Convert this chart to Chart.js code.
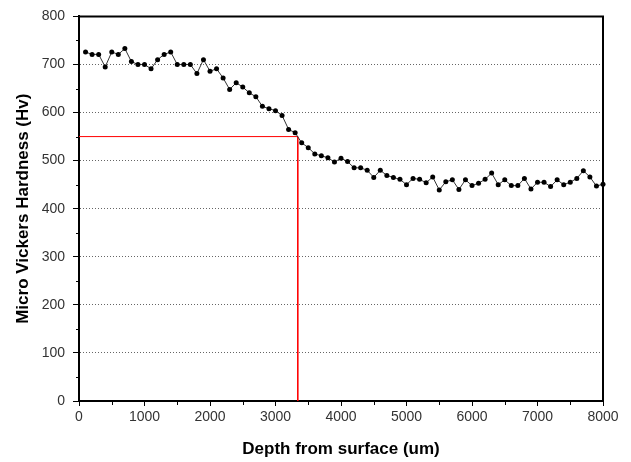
<!DOCTYPE html>
<html>
<head>
<meta charset="utf-8">
<script src="https://cdn.jsdelivr.net/npm/chart.js@4.4.1/dist/chart.umd.min.js"></script>
<style>
  html, body { margin: 0; padding: 0; background: #fff; }
  #wrap { width: 631px; height: 462px; }
</style>
</head>
<body>
<div id="wrap"><canvas id="chart" width="631" height="462"></canvas></div>
<script>
// depth from surface (um)
const depths = [
  100, 200, 300, 400, 500, 600, 700, 800, 900, 1000,
  1100, 1200, 1300, 1400, 1500, 1600, 1700, 1800, 1900, 2000,
  2100, 2200, 2300, 2400, 2500, 2600, 2700, 2800, 2900, 3000,
  3100, 3200, 3300, 3400, 3500, 3600, 3700, 3800, 3900, 4000,
  4100, 4200, 4300, 4400, 4500, 4600, 4700, 4800, 4900, 5000,
  5100, 5200, 5300, 5400, 5500, 5600, 5700, 5800, 5900, 6000,
  6100, 6200, 6300, 6400, 6500, 6600, 6700, 6800, 6900, 7000,
  7100, 7200, 7300, 7400, 7500, 7600, 7700, 7800, 7900, 8000
];
// micro vickers hardness (Hv)
const hardness = [
  726, 721, 721, 695, 726, 721, 733, 706, 700, 700,
  691, 710, 721, 726, 700, 700, 700, 681, 710, 686,
  691, 672, 648, 662, 653, 641, 633, 613, 608, 604,
  594, 565, 558, 537, 527, 514, 510, 506, 497, 505,
  498, 485, 485, 480, 465, 480, 469, 465, 461, 450,
  463, 461, 454, 466, 439, 456, 460, 440, 460, 448,
  453, 461, 474, 450, 460, 448, 448, 463, 441, 455,
  455, 446, 460, 450, 455, 463, 479, 466, 447, 451
];
// red guide line: depth at 550 Hv
const guideX = [0, 3340, 3340];
const guideY = [550, 550, 0];

const xTicks = [0, 1000, 2000, 3000, 4000, 5000, 6000, 7000, 8000];
const yTicks = [0, 100, 200, 300, 400, 500, 600, 700, 800];

const tickFont = { family: 'Liberation Sans, Arial, sans-serif', size: 14 };
const titleFont = { family: 'Liberation Sans, Arial, sans-serif', size: 17, weight: 'bold' };

// frame + minor ticks
const framePlugin = {
  id: 'frame',
  afterDraw(chart) {
    const { ctx, chartArea: a, scales } = chart;
    ctx.save();
    ctx.strokeStyle = '#000';
    ctx.lineWidth = 2;
    ctx.beginPath();
    ctx.moveTo(a.left, a.top);
    ctx.lineTo(a.right, a.top);
    ctx.lineTo(a.right, a.bottom);
    ctx.stroke();
    ctx.lineWidth = 1;
    ctx.beginPath();
    for (let i = 0; i < yTicks.length - 1; i++) {
      const y = Math.round(scales.y.getPixelForValue((yTicks[i] + yTicks[i + 1]) / 2)) + 0.5;
      ctx.moveTo(a.left - 3, y);
      ctx.lineTo(a.left, y);
    }
    for (let i = 0; i < xTicks.length - 1; i++) {
      const x = Math.round(scales.x.getPixelForValue((xTicks[i] + xTicks[i + 1]) / 2)) + 0.5;
      ctx.moveTo(x, a.bottom);
      ctx.lineTo(x, a.bottom + 4);
    }
    ctx.stroke();
    ctx.restore();
  }
};

new Chart(document.getElementById('chart'), {
  type: 'scatter',
  data: {
    datasets: [
      {
        label: 'Hardness',
        data: depths.map((d, i) => ({ x: d, y: hardness[i] })),
        showLine: true,
        borderColor: '#333',
        borderWidth: 1,
        pointRadius: 2.5,
        pointBackgroundColor: '#000',
        pointBorderWidth: 0,
        clip: false,
        order: 1
      },
      {
        label: 'Guide',
        data: guideX.map((d, i) => ({ x: d, y: guideY[i] })),
        showLine: true,
        borderColor: '#ff0000',
        borderWidth: 1,
        pointRadius: 0,
        order: 2
      }
    ]
  },
  options: {
    responsive: false,
    animation: false,
    layout: { padding: { left: 0, top: 15, right: 28, bottom: 0 } },
    plugins: { legend: { display: false }, tooltip: { enabled: false } },
    scales: {
      x: {
        type: 'linear',
        min: 0,
        max: 8000,
        afterFit(scale) { scale.height = 61; },
        ticks: { stepSize: 1000, color: '#333', font: tickFont, padding: 3, maxRotation: 0, callback: (v) => String(v) },
        grid: { drawOnChartArea: false, tickLength: 5, tickColor: '#000', tickWidth: 1 },
        border: { color: '#000', width: 2 },
        title: { display: true, text: 'Depth from surface (um)', color: '#000', font: titleFont, padding: { top: 0, bottom: 2 } }
      },
      y: {
        min: 0,
        max: 800,
        afterFit(scale) { scale.width = 79; },
        ticks: { stepSize: 100, color: '#333', font: tickFont, padding: 8, callback: (v) => String(v) },
        grid: {
          color: (c) => (c.tick && (c.tick.value === 0 || c.tick.value === 800)) ? 'rgba(0,0,0,0)' : '#666',
          tickColor: '#000',
          tickLength: 6,
          tickWidth: 1,
          lineWidth: 1,
          tickBorderDash: []
        },
        border: { color: '#000', width: 2, dash: [1, 2] },
        title: { display: true, text: 'Micro Vickers Hardness (Hv)', color: '#000', font: titleFont, padding: { top: 13, bottom: 0 } }
      }
    }
  },
  plugins: [framePlugin]
});
</script>
</body>
</html>
